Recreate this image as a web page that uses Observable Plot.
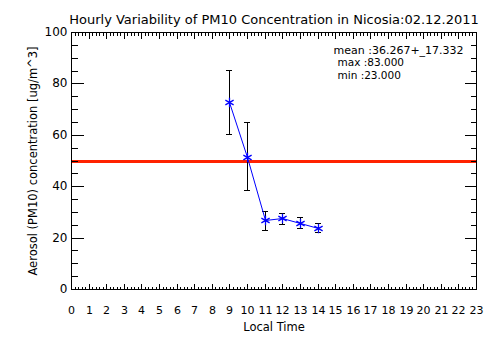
<!DOCTYPE html>
<html><head><meta charset="utf-8">
<script src="https://cdn.jsdelivr.net/npm/d3@7"></script>
<script src="https://cdn.jsdelivr.net/npm/@observablehq/plot@0.6"></script>
<style>body{margin:0;background:#fff}</style>
</head><body><div id="chart"></div>
<script>
const hours = [9, 10, 11, 12, 13, 14];
const means = [72.6, 51.5, 26.8, 27.5, 25.8, 23.9];
const upper = [85.2, 64.9, 30.4, 29.7, 27.9, 25.6];
const lower = [60.3, 38.5, 23.0, 25.2, 23.6, 22.3];
const limit = 50;
const xTickLabels = d3.range(0, 24);
const yTickLabels = [0, 20, 40, 60, 80, 100];
const stats = ["mean :36.267+_17.332", "max :83.000", "min :23.000"];
const title = "Hourly Variability of PM10 Concentration in Nicosia:02.12.2011";
const xTitle = "Local Time";
const yTitle = "Aerosol (PM10) concentration [ug/m^3]";

const data = hours.map((h, i) => ({h, m: means[i], hi: upper[i], lo: lower[i]}));
const xMinor = d3.range(0, 115).map(v => v / 5).filter(v => !Number.isInteger(v));
const yMinor = d3.range(0, 101, 5).filter(v => v % 20 !== 0);

const W = 504, H = 361, ML = 71, MR = 28, MT = 32, MB = 72;
const X0 = 0, X1 = 23, Y0 = 0, Y1 = 100;
// tick lengths in pixels, converted to data units
const uy = (Y1 - Y0) / (H - MT - MB);
const ux = (X1 - X0) / (W - ML - MR);

const xTick = (values, at, len) => Plot.link(values.map(v => ({v})), {
  x1: "v", x2: "v", y1: () => at, y2: () => at === Y0 ? at + len * uy : at - len * uy,
  stroke: "#000", strokeWidth: 1, shapeRendering: "crispEdges"
});
const yTick = (values, at, len) => Plot.link(values.map(v => ({v})), {
  y1: "v", y2: "v", x1: () => at, x2: () => at === X0 ? at + len * ux : at - len * ux,
  stroke: "#000", strokeWidth: 1, shapeRendering: "crispEdges"
});

const chart = Plot.plot({
  width: W, height: H,
  marginLeft: ML, marginRight: MR, marginTop: MT, marginBottom: MB,
  style: {fontFamily: "DejaVu Sans", background: "#fff", color: "#000"},
  x: {domain: [X0, X1], axis: null, round: true},
  y: {domain: [Y0, Y1], axis: null, round: true},
  marks: [
    Plot.ruleY([limit], {stroke: "#ff2200", strokeWidth: 3}),
    Plot.frame({stroke: "#000"}),
    // inward ticks (IDL style)
    xTick(xMinor, Y0, 3),
    xTick(xTickLabels, Y0, 6),
    xTick(xMinor, Y1, 3),
    xTick(xTickLabels, Y1, 6),
    yTick(yMinor, X0, 6),
    yTick(yTickLabels, X0, 12),
    yTick(yMinor, X1, 6),
    yTick(yTickLabels, X1, 12),
    // error bars
    Plot.ruleX(data, {x: "h", y1: "lo", y2: "hi", stroke: "#000", strokeWidth: 1}),
    Plot.ruleY(data, {y: "hi", x1: "h", x2: "h", insetLeft: -3, insetRight: -3, stroke: "#000"}),
    Plot.ruleY(data, {y: "lo", x1: "h", x2: "h", insetLeft: -3, insetRight: -3, stroke: "#000"}),
    Plot.line(data, {x: "h", y: "m", stroke: "#0000ff", strokeWidth: 1}),
    Plot.dot(data, {x: "h", y: "m", symbol: "asterisk", r: 4.5, stroke: "#0000ff", strokeWidth: 1.3}),
    // tick labels
    Plot.text(xTickLabels, {x: d => d, frameAnchor: "bottom", dy: 24, text: d => String(d), fontSize: 11}),
    Plot.text(yTickLabels, {y: d => d, frameAnchor: "left", dx: -4, textAnchor: "end", text: d => String(d), fontSize: 12}),
    // titles
    Plot.text([title], {frameAnchor: "top", dy: -18, fontSize: 13, text: d => d}),
    Plot.text([xTitle], {frameAnchor: "bottom", dy: 41, fontSize: 11.5, text: d => d}),
    Plot.text([yTitle], {frameAnchor: "left", dx: -38, rotate: -90, textAnchor: "middle", fontSize: 11.5, text: d => d}),
    // stats annotation
    Plot.text([stats[0]], {frameAnchor: "top-left", dx: 262, dy: 14, text: d => d, fontSize: 11, textAnchor: "start"}),
    Plot.text([stats[1]], {frameAnchor: "top-left", dx: 266, dy: 26.5, text: d => d, fontSize: 10.5, textAnchor: "start"}),
    Plot.text([stats[2]], {frameAnchor: "top-left", dx: 266, dy: 39, text: d => d, fontSize: 10.5, textAnchor: "start"})
  ]
});
document.getElementById("chart").appendChild(chart);
</script></body></html>
